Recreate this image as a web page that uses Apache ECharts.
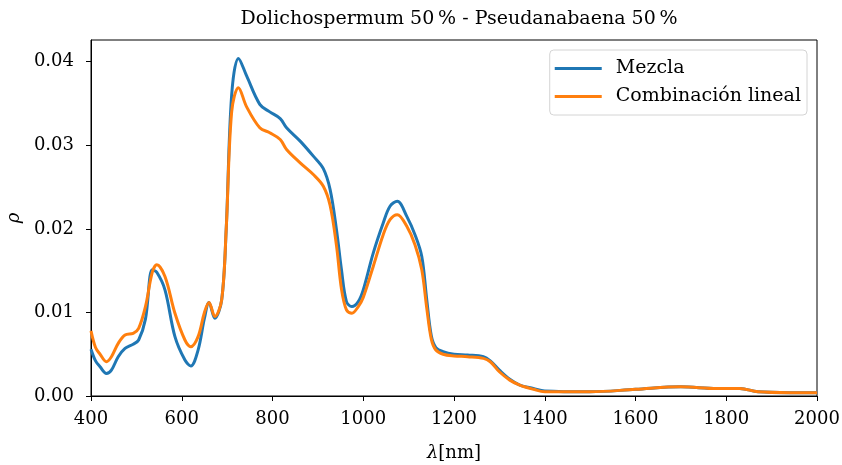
<!DOCTYPE html>
<html>
<head>
<meta charset="utf-8">
<script src="https://cdn.jsdelivr.net/npm/echarts@6/dist/echarts.min.js"></script>
<style>
	html, body { margin: 0; padding: 0; background: #fff; }
	#chart { width: 842px; height: 465px; }
</style>
</head>
<body>
<div id="chart"></div>
<script>
// wavelengths (nm) shared by both curves
var wavelengths = [400, 410, 420, 434, 445, 460, 475, 493, 505, 520, 535, 545, 563, 585, 607, 620, 636, 650, 660, 673, 688, 698, 710, 725, 743, 772, 794, 817, 831, 861, 890, 912, 927, 941, 952, 963, 975, 989, 1000, 1022, 1044, 1059, 1075, 1096, 1114, 1129, 1140, 1150, 1160, 1176, 1200, 1230, 1265, 1280, 1300, 1323, 1345, 1375, 1400, 1500, 1600, 1700, 1780, 1830, 1870, 1940, 2000];
var mezcla = [0.0056, 0.0042, 0.0035, 0.0027, 0.0031, 0.0047, 0.0057, 0.0062, 0.0067, 0.0092, 0.0151, 0.0148, 0.0127, 0.0071, 0.0043, 0.0036, 0.0055, 0.0093, 0.0112, 0.0093, 0.0115, 0.0200, 0.0360, 0.0404, 0.0383, 0.0349, 0.0340, 0.0332, 0.0321, 0.0305, 0.0287, 0.0272, 0.0247, 0.0199, 0.0151, 0.0113, 0.0107, 0.0113, 0.0127, 0.0171, 0.0207, 0.0227, 0.0233, 0.0215, 0.0193, 0.0167, 0.0115, 0.0072, 0.0058, 0.0053, 0.0050, 0.0049, 0.0047, 0.0042, 0.0031, 0.0020, 0.0013, 0.0009, 0.0006, 0.0005, 0.0008, 0.0011, 0.0009, 0.0009, 0.0005, 0.0004, 0.0004];
var combinacion = [0.0078, 0.0058, 0.0050, 0.0041, 0.0047, 0.0063, 0.0073, 0.0075, 0.0081, 0.0107, 0.0148, 0.0157, 0.0143, 0.0099, 0.0067, 0.0059, 0.0071, 0.0100, 0.0112, 0.0095, 0.0115, 0.0200, 0.0340, 0.0369, 0.0346, 0.0321, 0.0315, 0.0307, 0.0295, 0.0279, 0.0265, 0.0251, 0.0228, 0.0180, 0.0128, 0.0103, 0.0099, 0.0107, 0.0118, 0.0155, 0.0193, 0.0211, 0.0217, 0.0203, 0.0181, 0.0151, 0.0105, 0.0068, 0.0055, 0.0050, 0.0048, 0.0047, 0.0045, 0.0041, 0.0029, 0.0019, 0.0013, 0.0008, 0.0005, 0.0005, 0.0008, 0.0011, 0.0009, 0.0009, 0.0005, 0.0004, 0.0004];
var seriesNames = ["Mezcla", "Combinación lineal"];

function pairs(ys) {
	return wavelengths.map(function (x, i) { return [x, ys[i]]; });
}

var font = "DejaVu Serif";
var myChart = echarts.init(document.getElementById("chart"));
myChart.setOption({
	animation: false,
	textStyle: { fontFamily: font },
	title: {
		text: "Dolichospermum 50\u2009% - Pseudanabaena 50\u2009%",
		left: 454,
		textAlign: "center",
		top: 5,
		textStyle: { fontFamily: font, fontSize: 19, fontWeight: "normal", color: "#000" },
	},
	grid: {
		left: 91,
		right: 25,
		top: 40,
		bottom: 69,
		outerBoundsMode: "none",
		show: true,
		borderColor: "#000",
		borderWidth: 1,
		backgroundColor: "transparent",
	},
	legend: {
		orient: "vertical",
		right: 35,
		top: 50,
		data: seriesNames,
		icon: "rect",
		itemWidth: 47,
		itemHeight: 3,
		itemGap: 9,
		padding: [9, 6, 9, 5],
		backgroundColor: "#fff",
		borderColor: "#d4d4d4",
		borderWidth: 1,
		borderRadius: 4,
		textStyle: { fontFamily: font, fontSize: 19, color: "#000", padding: [0, 0, 0, 9] },
	},
	xAxis: {
		type: "value",
		min: 400,
		max: 2000,
		interval: 200,
		name: "{i|λ}[nm]",
		nameLocation: "middle",
		nameGap: 48,
		nameTextStyle: {
			fontFamily: font,
			fontSize: 18,
			color: "#000",
			rich: { i: { fontStyle: "italic", fontFamily: font, fontSize: 18, color: "#000" } },
		},
		axisLine: { show: true, lineStyle: { color: "#000", width: 1 } },
		axisTick: { show: true, inside: false, length: 5, lineStyle: { color: "#000" } },
		axisLabel: {
			color: "#000",
			fontSize: 18,
			margin: 14,
			formatter: function (v) { return String(v); },
		},
		splitLine: { show: false },
	},
	yAxis: {
		type: "value",
		min: 0,
		max: 0.0426,
		interval: 0.01,
		name: "ρ",
		nameLocation: "middle",
		nameGap: 65,
		nameRotate: 90,
		nameTextStyle: { fontFamily: font, fontSize: 18, fontStyle: "italic", color: "#000" },
		axisLine: { show: true, lineStyle: { color: "#000", width: 1 } },
		axisTick: { show: true, inside: false, length: 5, lineStyle: { color: "#000" } },
		axisLabel: {
			color: "#000",
			fontSize: 18,
			margin: 17,
			showMaxLabel: false,
			formatter: function (v) { return v.toFixed(2); },
		},
		splitLine: { show: false },
	},
	series: [
		{
			name: seriesNames[0],
			type: "line",
			data: pairs(mezcla),
			showSymbol: false,
			smooth: 0.35,
			lineStyle: { color: "#1f77b4", width: 3 },
			itemStyle: { color: "#1f77b4" },
		},
		{
			name: seriesNames[1],
			type: "line",
			data: pairs(combinacion),
			showSymbol: false,
			smooth: 0.35,
			lineStyle: { color: "#ff7f0e", width: 3 },
			itemStyle: { color: "#ff7f0e" },
		},
	],
});
</script>
</body>
</html>
